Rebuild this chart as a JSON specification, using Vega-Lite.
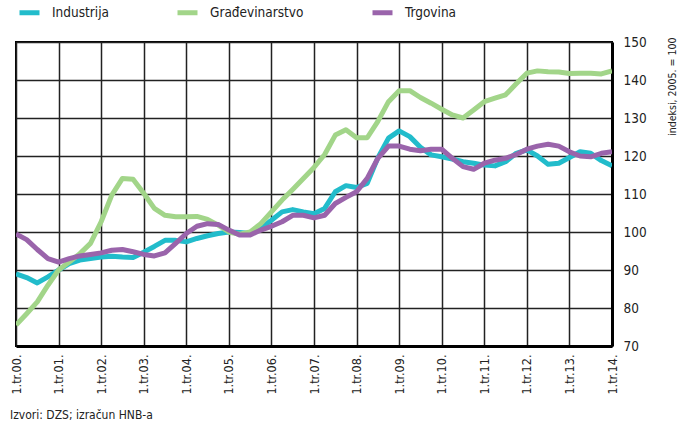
{
  "$schema": "https://vega.github.io/schema/vega-lite/v6.json",
  "width": 596,
  "height": 304,
  "autosize": "none",
  "padding": {"left": 16, "top": 42, "right": 66, "bottom": 81},
  "background": "white",
  "config": {
    "font": "'DejaVu Sans Condensed', Roboto, sans-serif",
    "view": {"stroke": "black", "strokeWidth": 2},
    "axis": {"labelFont": "'DejaVu Sans Condensed', Roboto, sans-serif", "titleFont": "'DejaVu Sans Condensed', Roboto, sans-serif", "labelColor": "#222", "titleColor": "#222"}
  },
  "title": {
    "text": "Izvori: DZS; izračun HNB-a",
    "orient": "bottom",
    "anchor": "start",
    "offset": 16,
    "fontSize": 12,
    "fontWeight": "normal",
    "font": "'DejaVu Sans Condensed', Roboto, sans-serif",
    "color": "#222"
  },
  "data": {
    "values": [
      {"t": 2000, "Industrija": 89, "Građevinarstvo": 75.5, "Trgovina": 99.5},
      {"t": 2000.25, "Industrija": 88, "Građevinarstvo": 78.5, "Trgovina": 98},
      {"t": 2000.5, "Industrija": 86.6, "Građevinarstvo": 81.6, "Trgovina": 95.4},
      {"t": 2000.75, "Industrija": 88.2, "Građevinarstvo": 86, "Trgovina": 93},
      {"t": 2001, "Industrija": 90, "Građevinarstvo": 90, "Trgovina": 92.1},
      {"t": 2001.25, "Industrija": 91.7, "Građevinarstvo": 92.1, "Trgovina": 93},
      {"t": 2001.5, "Industrija": 92.6, "Građevinarstvo": 94.3, "Trgovina": 93.7},
      {"t": 2001.75, "Industrija": 93, "Građevinarstvo": 97, "Trgovina": 94.1},
      {"t": 2002, "Industrija": 93.4, "Građevinarstvo": 102.7, "Trgovina": 94.5},
      {"t": 2002.25, "Industrija": 93.6, "Građevinarstvo": 109.7, "Trgovina": 95.2},
      {"t": 2002.5, "Industrija": 93.4, "Građevinarstvo": 114.1, "Trgovina": 95.4},
      {"t": 2002.75, "Industrija": 93.3, "Građevinarstvo": 113.9, "Trgovina": 94.8},
      {"t": 2003, "Industrija": 94.7, "Građevinarstvo": 110.2, "Trgovina": 94.1},
      {"t": 2003.25, "Industrija": 96.2, "Građevinarstvo": 106.2, "Trgovina": 93.7},
      {"t": 2003.5, "Industrija": 97.8, "Građevinarstvo": 104.4, "Trgovina": 94.5},
      {"t": 2003.75, "Industrija": 97.8, "Građevinarstvo": 104, "Trgovina": 97},
      {"t": 2004, "Industrija": 97.4, "Građevinarstvo": 104, "Trgovina": 99.6},
      {"t": 2004.25, "Industrija": 98.3, "Građevinarstvo": 104.1, "Trgovina": 101.5},
      {"t": 2004.5, "Industrija": 99, "Građevinarstvo": 103.3, "Trgovina": 102.2},
      {"t": 2004.75, "Industrija": 99.6, "Građevinarstvo": 101.8, "Trgovina": 102},
      {"t": 2005, "Industrija": 100, "Građevinarstvo": 100, "Trgovina": 100.5},
      {"t": 2005.25, "Industrija": 99.9, "Građevinarstvo": 99.4, "Trgovina": 99.2},
      {"t": 2005.5, "Industrija": 99.6, "Građevinarstvo": 100, "Trgovina": 99.2},
      {"t": 2005.75, "Industrija": 101, "Građevinarstvo": 102.2, "Trgovina": 100.5},
      {"t": 2006, "Industrija": 103.1, "Građevinarstvo": 105.3, "Trgovina": 101.5},
      {"t": 2006.25, "Industrija": 105.3, "Građevinarstvo": 108.4, "Trgovina": 102.7},
      {"t": 2006.5, "Industrija": 105.9, "Građevinarstvo": 111.2, "Trgovina": 104.4},
      {"t": 2006.75, "Industrija": 105.3, "Građevinarstvo": 114.1, "Trgovina": 104.4},
      {"t": 2007, "Industrija": 104.8, "Građevinarstvo": 117, "Trgovina": 103.7},
      {"t": 2007.25, "Industrija": 106.2, "Građevinarstvo": 120.4, "Trgovina": 104.4},
      {"t": 2007.5, "Industrija": 110.6, "Građevinarstvo": 125.5, "Trgovina": 107.5},
      {"t": 2007.75, "Industrija": 112.2, "Građevinarstvo": 126.9, "Trgovina": 109.1},
      {"t": 2008, "Industrija": 111.7, "Građevinarstvo": 124.8, "Trgovina": 110.6},
      {"t": 2008.25, "Industrija": 112.8, "Građevinarstvo": 124.8, "Trgovina": 114.1},
      {"t": 2008.5, "Industrija": 119.5, "Građevinarstvo": 129.1, "Trgovina": 119.4},
      {"t": 2008.75, "Industrija": 124.7, "Građevinarstvo": 134.3, "Trgovina": 122.6},
      {"t": 2009, "Industrija": 126.6, "Građevinarstvo": 137.2, "Trgovina": 122.6},
      {"t": 2009.25, "Industrija": 125.1, "Građevinarstvo": 137.2, "Trgovina": 121.8},
      {"t": 2009.5, "Industrija": 122.3, "Građevinarstvo": 135.4, "Trgovina": 121.4},
      {"t": 2009.75, "Industrija": 120.3, "Građevinarstvo": 133.9, "Trgovina": 121.8},
      {"t": 2010, "Industrija": 119.8, "Građevinarstvo": 132.3, "Trgovina": 121.8},
      {"t": 2010.25, "Industrija": 119.2, "Građevinarstvo": 130.8, "Trgovina": 119.4},
      {"t": 2010.5, "Industrija": 118.5, "Građevinarstvo": 130, "Trgovina": 117.2},
      {"t": 2010.75, "Industrija": 118.1, "Građevinarstvo": 132.1, "Trgovina": 116.5},
      {"t": 2011, "Industrija": 117.6, "Građevinarstvo": 134.3, "Trgovina": 118.1},
      {"t": 2011.25, "Industrija": 117.4, "Građevinarstvo": 135.2, "Trgovina": 118.9},
      {"t": 2011.5, "Industrija": 118.5, "Građevinarstvo": 136.1, "Trgovina": 119.4},
      {"t": 2011.75, "Industrija": 120.7, "Građevinarstvo": 139, "Trgovina": 120.4},
      {"t": 2012, "Industrija": 121.6, "Građevinarstvo": 141.8, "Trgovina": 121.8},
      {"t": 2012.25, "Industrija": 120, "Građevinarstvo": 142.4, "Trgovina": 122.6},
      {"t": 2012.5, "Industrija": 117.8, "Građevinarstvo": 142.2, "Trgovina": 123.1},
      {"t": 2012.75, "Industrija": 118.1, "Građevinarstvo": 142.1, "Trgovina": 122.6},
      {"t": 2013, "Industrija": 119.6, "Građevinarstvo": 141.7, "Trgovina": 121.1},
      {"t": 2013.25, "Industrija": 121.1, "Građevinarstvo": 141.8, "Trgovina": 120},
      {"t": 2013.5, "Industrija": 120.7, "Građevinarstvo": 141.8, "Trgovina": 119.8},
      {"t": 2013.75, "Industrija": 118.8, "Građevinarstvo": 141.6, "Trgovina": 120.7},
      {"t": 2014, "Industrija": 117.4, "Građevinarstvo": 142.4, "Trgovina": 121.1}
    ]
  },
  "transform": [
    {"fold": ["Industrija", "Građevinarstvo", "Trgovina"], "as": ["serija", "vrijednost"]}
  ],
  "mark": {"type": "line", "strokeWidth": 5, "strokeJoin": "round", "strokeCap": "butt", "clip": true},
  "encoding": {
    "x": {
      "field": "t",
      "type": "quantitative",
      "scale": {"domain": [2000, 2014], "nice": false, "zero": false},
      "axis": {
        "title": null,
        "values": [2000, 2001, 2002, 2003, 2004, 2005, 2006, 2007, 2008, 2009, 2010, 2011, 2012, 2013, 2014],
        "labelExpr": "'1.tr.' + substring(toString(datum.value), 2, 4) + '.'",
        "labelAngle": -90,
        "labelAlign": "right",
        "labelBaseline": "middle",
        "labelFontSize": 12.5,
        "labelPadding": 8,
        "labelFlush": false,
        "labelOverlap": false,
        "ticks": false,
        "grid": true,
        "gridColor": "#222",
        "gridWidth": 1.5,
        "gridOpacity": 1,
        "domainColor": "black",
        "domainWidth": 3
      }
    },
    "y": {
      "field": "vrijednost",
      "type": "quantitative",
      "scale": {"domain": [70, 150], "nice": false, "zero": false},
      "axis": {
        "orient": "right",
        "title": "indeksi, 2005. = 100",
        "titleFontSize": 10.5,
        "titleFontWeight": "normal",
        "titleAngle": 270,
        "titleAlign": "right",
        "titleBaseline": "alphabetic",
        "titleX": 63,
        "titleY": -5,
        "values": [70, 80, 90, 100, 110, 120, 130, 140, 150],
        "labelFontSize": 13.5,
        "labelPadding": 11,
        "labelBaseline": "middle",
        "labelFlush": false,
        "labelOverlap": false,
        "ticks": false,
        "grid": true,
        "gridColor": "#222",
        "gridWidth": 1.5,
        "gridOpacity": 1,
        "domainColor": "black",
        "domainWidth": 3
      }
    },
    "color": {
      "field": "serija",
      "type": "nominal",
      "sort": ["Industrija", "Građevinarstvo", "Trgovina"],
      "scale": {"domain": ["Industrija", "Građevinarstvo", "Trgovina"], "range": ["#22bccb", "#a2d589", "#9a64ab"]},
      "legend": {
        "title": null,
        "orient": "none",
        "direction": "horizontal",
        "legendX": 1,
        "legendY": -42,
        "padding": 0,
        "symbolType": "stroke",
        "symbolSize": 400,
        "symbolStrokeWidth": 5,
        "symbolOpacity": 1,
        "labelFontSize": 13.5,
        "labelFont": "'DejaVu Sans Condensed', Roboto, sans-serif",
        "labelColor": "#222",
        "labelOffset": 10,
        "columnPadding": 58
      }
    }
  }
}
